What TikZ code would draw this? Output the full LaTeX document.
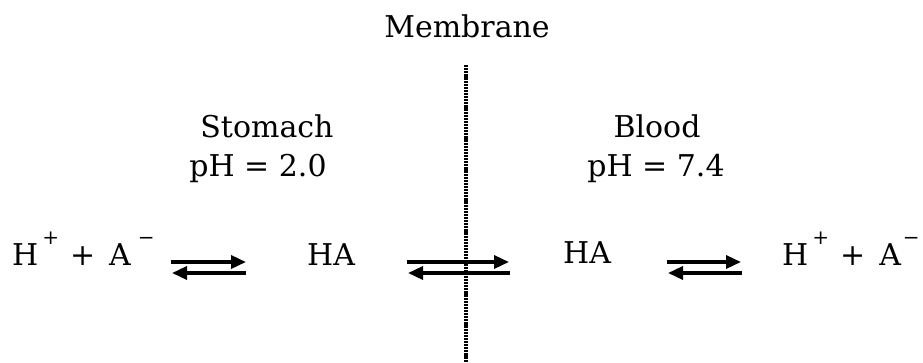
\documentclass[tikz,border=0pt]{standalone}
\usepackage{fontspec}
\setmainfont{DejaVu Serif}
\usetikzlibrary{arrows.meta}
% raised charge sign set apart from its letter
\newcommand{\chg}[1]{\raisebox{21pt}{\fontsize{20}{22}\selectfont #1}}
% an ion pair H+ + A-; the argument is the gap before the minus sign
\newcommand{\ionpair}[1]{H\hspace{4pt}\chg{+}\hspace{11pt}+\hspace{14pt}A\hspace{#1}\chg{−}}
\begin{document}
\begin{tikzpicture}[x=1pt,y=-1pt,
  lbl/.style={inner sep=0pt,anchor=base,font=\fontsize{30}{34}\selectfont},
  species/.style={inner sep=0pt,anchor=base west,font=\fontsize{30}{34}\selectfont},
  eqarrow/.style={line width=3.4pt,-{Triangle[length=15pt,width=13pt]}},
  membrane/.style={line width=3.4pt,dash pattern=on 2.2pt off 0.9pt}]
\useasboundingbox (0,0) rectangle (923,362);
% membrane and its label
\node[lbl] (mem) at (467,37) {Membrane};
\coordinate (mtop) at (466,65);
\coordinate (mbot) at (466,362);
\draw[membrane] (mtop) -- (mbot);
% compartment labels
\node[lbl] (stom) at (267,137) {Stomach};
\node[lbl] (phs) at (258,176) {pH = 2.0};
\node[lbl] (blood) at (657,137) {Blood};
\node[lbl] (phb) at (656,176) {pH = 7.4};
% species
\node[species] (ionL) at (12,265) {\ionpair{7pt}};
\node[lbl] (haL) at (331,265) {HA};
\node[lbl] (haR) at (587,263) {HA};
\node[species] (ionR) at (782,265) {\ionpair{2pt}};
% equilibrium arrows
\coordinate (a1) at (171,262); \coordinate (b1) at (246,262);
\coordinate (c1) at (172,273); \coordinate (d1) at (246,273);
\draw[eqarrow] (a1) -- (b1);
\draw[eqarrow] (d1) -- (c1);
\coordinate (a2) at (407,262); \coordinate (b2) at (509,262);
\coordinate (c2) at (408,273); \coordinate (d2) at (510,273);
\draw[eqarrow] (a2) -- (b2);
\draw[eqarrow] (d2) -- (c2);
\coordinate (a3) at (667,262); \coordinate (b3) at (741,262);
\coordinate (c3) at (668,273); \coordinate (d3) at (742,273);
\draw[eqarrow] (a3) -- (b3);
\draw[eqarrow] (d3) -- (c3);
\end{tikzpicture}
\end{document}
